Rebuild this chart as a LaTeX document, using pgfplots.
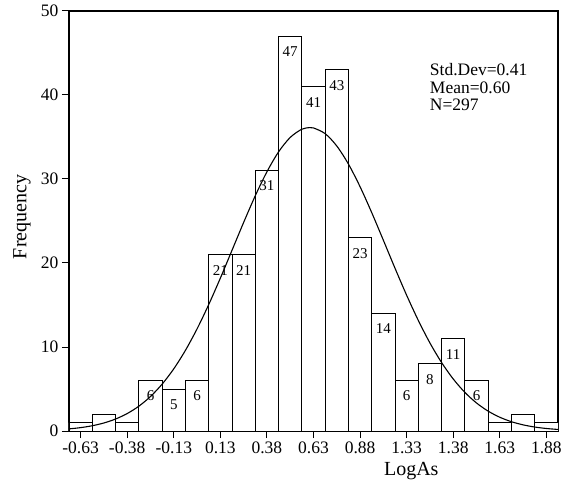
\documentclass[border=0pt]{standalone}
\usepackage{fontspec}
\setmainfont{Liberation Serif}
\usepackage{pgfplots}
\pgfplotsset{compat=1.18}
\usepackage{pgfplotstable}

% bins of width 0.125, centres from -0.63 to 1.88 (index i = 0..20)
\pgfplotstableread{
i h
0 1
1 2
2 1
3 6
4 5
5 6
6 21
7 21
8 31
9 47
10 41
11 43
12 23
13 14
14 6
15 8
16 11
17 6
18 1
19 2
20 1
}\bins

% bars that carry a count label
\pgfplotstableread{
i h
3 6
4 5
5 6
6 21
7 21
8 31
9 47
10 41
11 43
12 23
13 14
14 6
15 8
16 11
17 6
}\labs

\begin{document}
\begin{tikzpicture}
\begin{axis}[at={(0,0)},anchor=south west,
  scale only axis,width=489pt,height=420pt,
  xmin=-0.5,xmax=20.5,ymin=0,ymax=50,
  xtick={0,2,...,20},
  xticklabels={-0.63,-0.38,-0.13,0.13,0.38,0.63,0.88,1.33,1.38,1.63,1.88},
  ytick={0,10,...,50},
  tick align=outside,xtick pos=left,ytick pos=left,
  major tick length=7pt,
  every tick/.style={black,line width=1pt},
  axis line style={line width=1.3pt},
  tick label style={font=\fontsize{17.5}{18}\selectfont},
  /pgf/number format/assume math mode=true,
  xlabel={LogAs},ylabel={Frequency},
  label style={font=\fontsize{20}{22}\selectfont},
  xlabel style={at={(axis description cs:0.70,-0.095)},anchor=center},
  ylabel style={at={(axis description cs:-0.096,0.51)},anchor=center}]

\addplot[ybar,bar width=1,fill=white,draw=black,line width=0.9pt] table[x=i,y=h]{\bins};

\addplot[draw=none,mark=none,nodes near coords,point meta=y,
  nodes near coords style={anchor=center,yshift=-15.5pt,font=\fontsize{15}{15}\selectfont}]
  table[x=i,y=h]{\labs};

% fitted normal curve (mean 0.60, sd 0.41, N=297)
\addplot[black,line width=1.1pt,smooth,mark=none] coordinates {
(-0.5,0.251)(0,0.401)(0.5,0.627)(1,0.956)(1.5,1.426)(2,2.077)(2.5,2.954)
(3,4.107)(3.5,5.580)(4,7.405)(4.5,9.601)(5,12.16)(5.5,15.05)(6,18.20)
(6.5,21.51)(7,24.83)(7.5,28.01)(8,30.86)(8.5,33.23)(9,34.95)(9.5,35.93)
(9.84,36.12)(10,36.08)(10.5,35.40)(11,33.93)(11.5,31.78)(12,29.08)
(12.5,26.00)(13,22.71)(13.5,19.38)(14,16.16)(14.5,13.17)(15,10.48)
(15.5,8.152)(16,6.195)(16.5,4.598)(17,3.336)(17.5,2.364)(18,1.637)
(18.5,1.107)(19,0.732)(19.5,0.473)(20,0.298)(20.5,0.184)};

\node[anchor=base west,font=\fontsize{17.5}{18}\selectfont] at (axis cs:14.85,42.3) {Std.Dev=0.41};
\node[anchor=base west,font=\fontsize{17.5}{18}\selectfont] at (axis cs:14.85,40.2) {Mean=0.60};
\node[anchor=base west,font=\fontsize{17.5}{18}\selectfont] at (axis cs:14.85,38.1) {N=297};
\end{axis}
\path (-69pt,-53pt) rectangle (508pt,431pt);
\end{tikzpicture}
\end{document}
